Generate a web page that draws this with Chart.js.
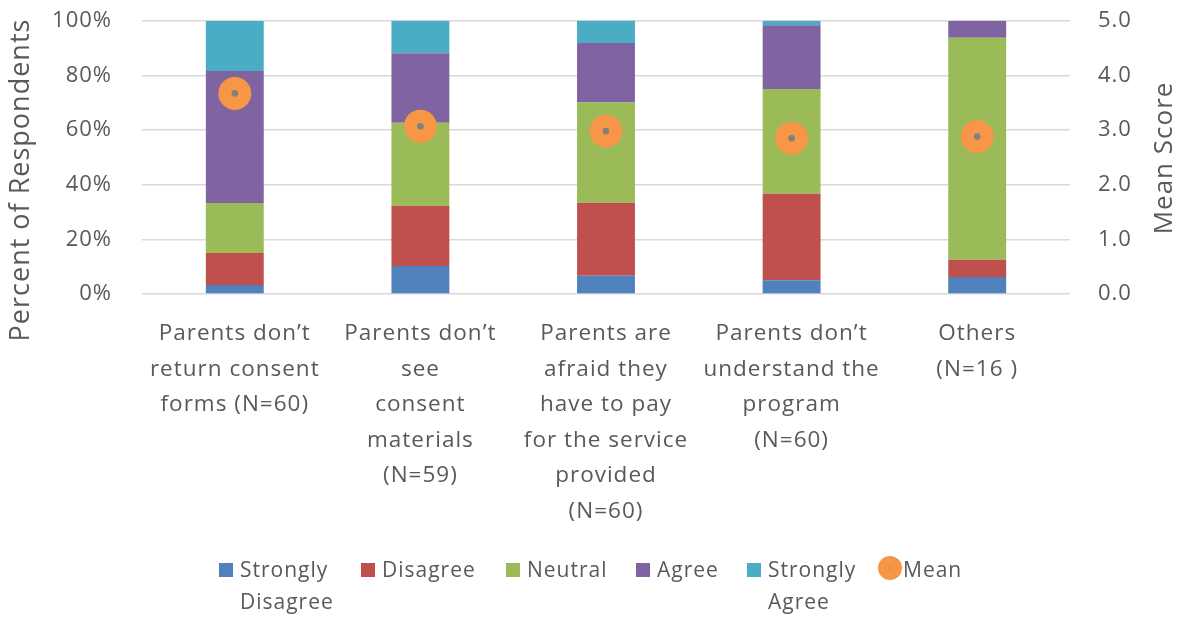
<!DOCTYPE html>
<html>
<head>
<meta charset="utf-8">
<script src="https://cdn.jsdelivr.net/npm/chart.js@4.4.1/dist/chart.umd.min.js"></script>
<style>
  html, body { margin: 0; padding: 0; background: #fff; }
  #wrap { position: relative; width: 1178px; height: 618px; font-family: "Open Sans", sans-serif; color: #595959; }
  #c { position: absolute; left: 0; top: 0; }
  .lg { position: absolute; top: 553px; font-size: 21px; line-height: 32px; letter-spacing: 1px; white-space: nowrap; }
  .lg .sw { position: absolute; left: 0; top: 10px; width: 14px; height: 14px; }
  .lg .mk { position: absolute; left: 0; top: 3px; width: 24px; height: 24px; border-radius: 50%; background: #F79646; }
  .lg .mk::after { content: ""; position: absolute; left: 11px; top: 11px; width: 2px; height: 2px; border-radius: 50%; background: #9a8a80; }
  .lg .tx { position: absolute; top: 0; }
</style>
</head>
<body>
<div id="wrap">
  <canvas id="c" width="1178" height="618"></canvas>
  <div id="legend"></div>
</div>
<script>
// Reasons consent is not obtained: share of responses per rating, plus mean score
const categories = [
  ["Parents don\u2019t", "return consent", "forms (N=60)"],
  ["Parents don\u2019t", "see", "consent", "materials", "(N=59)"],
  ["Parents are", "afraid they", "have to pay", "for the service", "provided", "(N=60)"],
  ["Parents don\u2019t", "understand the", "program", "(N=60)"],
  ["Others", "(N=16 )"]
];
const seriesNames = ["Strongly Disagree", "Disagree", "Neutral", "Agree", "Strongly Agree"];
const stronglyDisagree = [3.3, 10.2, 6.7, 5.0, 6.25];
const disagree         = [11.7, 22.0, 26.7, 31.7, 6.25];
const neutral          = [18.3, 30.5, 36.7, 38.3, 81.25];
const agree            = [48.3, 25.4, 21.7, 23.3, 6.25];
const stronglyAgree    = [18.3, 11.9, 8.3, 1.7, 0];
const meanScore        = [3.67, 3.07, 2.98, 2.85, 2.88];
const percentTicks = [0, 20, 40, 60, 80, 100];
const scoreTicks   = [0, 1, 2, 3, 4, 5];

const colors = ["#4F81BD", "#C0504D", "#9BBB59", "#8064A2", "#4BACC6"];
const meanColor = "#F79646";
const textColor = "#595959";
const fontFamily = "'Open Sans', sans-serif";

const seriesValues = [stronglyDisagree, disagree, neutral, agree, stronglyAgree];

const barSets = seriesValues.map((vals, i) => ({
  type: "bar",
  label: seriesNames[i],
  data: vals,
  backgroundColor: colors[i],
  borderWidth: 0,
  yAxisID: "y",
  stack: "s",
  order: 2,
  barPercentage: 0.312,
  categoryPercentage: 1.0
}));

const meanSet = {
  type: "line",
  label: "Mean",
  data: meanScore,
  yAxisID: "y1",
  showLine: false,
  pointRadius: 16.5,
  pointHoverRadius: 16.5,
  pointBackgroundColor: meanColor,
  pointBorderWidth: 0,
  order: 1
};
const meanDot = {
  type: "line",
  label: "",
  data: meanScore,
  yAxisID: "y1",
  showLine: false,
  pointRadius: 3.3,
  pointHoverRadius: 3.3,
  pointBackgroundColor: "#808080",
  pointBorderWidth: 0,
  order: 0
};

// Wider tracking on canvas text, and both axis titles read bottom-to-top
const textStyle = {
  id: "textStyle",
  beforeDraw(chart) {
    chart.ctx.letterSpacing = "1px";
  },
  afterDraw(chart) {
    const ctx = chart.ctx;
    const titles = [
      { text: "Percent of Respondents", x: 21, y: 180, size: 27 },
      { text: "Mean Score", x: 1165, y: 158, size: 26 }
    ];
    titles.forEach(t => {
      ctx.save();
      ctx.letterSpacing = "1px";
      ctx.font = t.size + "px " + fontFamily;
      ctx.fillStyle = textColor;
      ctx.textAlign = "center";
      ctx.textBaseline = "middle";
      ctx.translate(t.x, t.y);
      ctx.rotate(-Math.PI / 2);
      ctx.fillText(t.text, 0, 0);
      ctx.restore();
    });
  }
};

new Chart(document.getElementById("c"), {
  data: { labels: categories, datasets: [...barSets, meanSet, meanDot] },
  plugins: [textStyle],
  options: {
    responsive: false,
    animation: false,
    events: [],
    layout: { padding: { top: 20.7, bottom: 0, left: 0, right: 0 } },
    plugins: { legend: { display: false }, tooltip: { enabled: false } },
    scales: {
      x: {
        stacked: true,
        grid: { display: false, drawTicks: false },
        border: { display: false },
        ticks: {
          color: textColor,
          font: { family: fontFamily, size: 22.5, lineHeight: 1.58 },
          padding: 22,
          maxRotation: 0,
          autoSkip: false
        },
        afterFit: s => { s.height = 324; }
      },
      y: {
        stacked: true,
        position: "left",
        min: 0,
        max: 100,
        afterBuildTicks: s => { s.ticks = percentTicks.map(v => ({ value: v })); },
        grid: { color: "#D9D9D9", lineWidth: 1.5, drawTicks: true, tickLength: 30, tickColor: "rgba(0,0,0,0)" },
        border: { display: false },
        ticks: {
          color: textColor,
          font: { family: fontFamily, size: 22 },
          padding: 0,
          callback: v => v + "%"
        },
        afterFit: s => { s.width = 142; }
      },
      y1: {
        position: "right",
        min: 0,
        max: 5,
        afterBuildTicks: s => { s.ticks = scoreTicks.map(v => ({ value: v })); },
        grid: { display: true, drawOnChartArea: false, color: "rgba(0,0,0,0)", drawTicks: true, tickLength: 28, tickColor: "rgba(0,0,0,0)" },
        border: { display: false },
        ticks: {
          color: textColor,
          font: { family: fontFamily, size: 22 },
          padding: 0,
          callback: v => Number(v).toFixed(1)
        },
        afterFit: s => { s.width = 108; }
      }
    }
  }
});

// Legend below the plot
const legendItems = [
  { lines: ["Strongly", "Disagree"], color: colors[0], left: 219 },
  { lines: ["Disagree"], color: colors[1], left: 361 },
  { lines: ["Neutral"], color: colors[2], left: 506 },
  { lines: ["Agree"], color: colors[3], left: 636 },
  { lines: ["Strongly", "Agree"], color: colors[4], left: 747 },
  { lines: ["Mean"], color: meanColor, left: 878, marker: true }
];
const legendEl = document.getElementById("legend");
legendItems.forEach(item => {
  const d = document.createElement("div");
  d.className = "lg";
  d.style.left = item.left + "px";
  const m = document.createElement("span");
  m.className = item.marker ? "mk" : "sw";
  if (!item.marker) m.style.background = item.color;
  d.appendChild(m);
  const t = document.createElement("span");
  t.className = "tx";
  t.style.left = (item.marker ? 25 : 21) + "px";
  t.innerHTML = item.lines.join("<br>");
  d.appendChild(t);
  legendEl.appendChild(d);
});
</script>
</body>
</html>
